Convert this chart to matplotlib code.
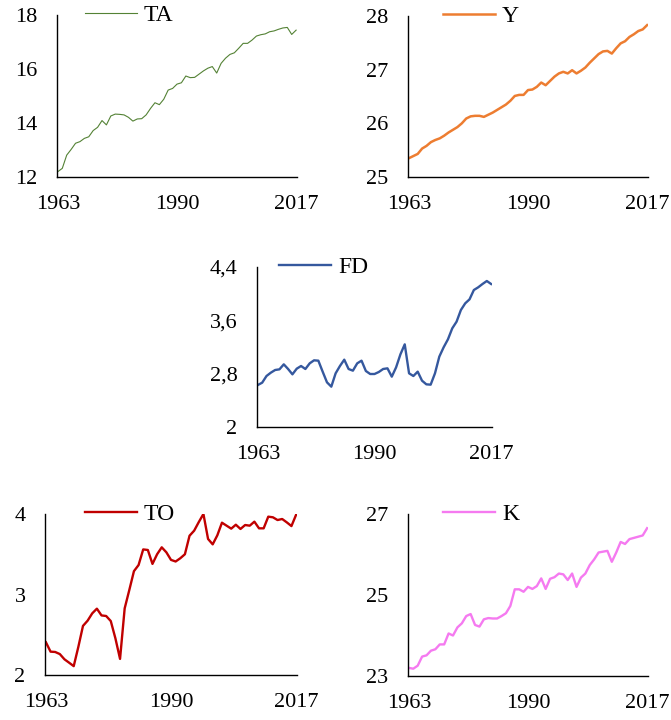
import matplotlib
matplotlib.use("Agg")
import matplotlib.pyplot as plt

plt.rcParams['font.family'] = ['Liberation Serif', 'DejaVu Serif']

years = list(range(1963, 2018))

ta = [12.20, 12.32, 12.81, 13.02, 13.25, 13.31, 13.43, 13.49, 13.72, 13.84,
      14.09, 13.93, 14.26, 14.33, 14.32, 14.30, 14.21, 14.07, 14.15, 14.16,
      14.30, 14.54, 14.75, 14.68, 14.88, 15.22, 15.28, 15.44, 15.49, 15.74,
      15.68, 15.69, 15.81, 15.93, 16.03, 16.09, 15.85, 16.21, 16.40, 16.54,
      16.60, 16.77, 16.95, 16.95, 17.07, 17.22, 17.27, 17.30, 17.38, 17.41,
      17.47, 17.52, 17.54, 17.28, 17.44]

y_gdp = [25.35, 25.39, 25.43, 25.53, 25.58, 25.65, 25.69, 25.72, 25.77, 25.83,
         25.88, 25.93, 26.00, 26.09, 26.13, 26.14, 26.14, 26.12, 26.16, 26.20,
         26.25, 26.30, 26.35, 26.42, 26.51, 26.53, 26.53, 26.62, 26.63, 26.68,
         26.76, 26.71, 26.79, 26.87, 26.93, 26.96, 26.93, 26.99, 26.93, 26.98,
         27.04, 27.13, 27.21, 27.29, 27.34, 27.35, 27.30, 27.40, 27.49, 27.53,
         27.61, 27.66, 27.72, 27.75, 27.83]

fd = [2.63, 2.665, 2.765, 2.815, 2.855, 2.865, 2.94, 2.87, 2.79, 2.875,
      2.915, 2.87, 2.955, 3.00, 2.995, 2.83, 2.67, 2.605, 2.805, 2.915,
      3.01, 2.87, 2.845, 2.955, 2.995, 2.84, 2.795, 2.795, 2.825, 2.87,
      2.88, 2.755, 2.895, 3.09, 3.24, 2.805, 2.765, 2.83, 2.695, 2.64,
      2.635, 2.805, 3.055, 3.195, 3.315, 3.48, 3.58, 3.755, 3.855, 3.915,
      4.055, 4.095, 4.145, 4.19, 4.145]

to = [2.406, 2.29, 2.286, 2.26, 2.195, 2.153, 2.11, 2.35, 2.61, 2.675,
      2.766, 2.824, 2.74, 2.733, 2.67, 2.455, 2.20, 2.828, 3.056, 3.29,
      3.366, 3.56, 3.553, 3.38, 3.50, 3.586, 3.524, 3.43, 3.41, 3.45,
      3.50, 3.73, 3.793, 3.90, 4.00, 3.69, 3.623, 3.735, 3.892, 3.855,
      3.818, 3.867, 3.814, 3.863, 3.855, 3.905, 3.822, 3.822, 3.967, 3.959,
      3.925, 3.938, 3.896, 3.85, 3.99]

k = [23.20, 23.18, 23.255, 23.48, 23.51, 23.625, 23.66, 23.78, 23.78, 24.05,
     24.00, 24.20, 24.30, 24.48, 24.53, 24.26, 24.22, 24.40, 24.43, 24.42,
     24.42, 24.48, 24.55, 24.73, 25.14, 25.14, 25.08, 25.20, 25.15, 25.22,
     25.41, 25.15, 25.40, 25.44, 25.53, 25.51, 25.37, 25.53, 25.20, 25.43,
     25.53, 25.74, 25.88, 26.05, 26.07, 26.09, 25.82, 26.05, 26.31, 26.26,
     26.38, 26.41, 26.44, 26.47, 26.65]

x_ticks = [1963, 1990, 2017]

W, H = 671, 720
fig = plt.figure(figsize=(W / 100, H / 100), dpi=100)


def panel(box, data, name, color, lw, ylim, yticks, ylabels, leg_dx):
    # box = (left, top, right, bottom) in pixels
    l, t, r, b = box
    ax = fig.add_axes([l / W, 1 - b / H, (r - l) / W, (b - t) / H])
    ax.plot(years, data, color=color, lw=lw, label=name)
    ax.set_xlim(1962.8, 2017.2)
    ax.set_ylim(*ylim)
    ax.set_xticks(x_ticks)
    ax.set_yticks(yticks)
    ax.set_yticklabels(ylabels)
    ax.tick_params(length=0, labelsize=16)
    ax.tick_params(axis='y', pad=14)
    ax.tick_params(axis='x', pad=13)
    for s in ['top', 'right']:
        ax.spines[s].set_visible(False)
    for s in ['left', 'bottom']:
        ax.spines[s].set_linewidth(1.0)
    ax.legend(loc='center left', bbox_to_anchor=(leg_dx / (r - l), 1.0),
              frameon=False, fontsize=17, handlelength=2.2, handletextpad=0.3,
              borderpad=0, borderaxespad=0)
    return ax


panel((57, 15, 297, 177), ta, 'TA', '#548235', 0.8, (12, 18),
      [12, 14, 16, 18], ['12', '14', '16', '18'], 28)
panel((408, 16, 648, 177), y_gdp, 'Y', '#ED7D31', 1.8, (25, 28),
      [25, 26, 27, 28], ['25', '26', '27', '28'], 35)
panel((257, 267, 492, 427), fd, 'FD', '#35589E', 1.7, (2, 4.4),
      [2, 2.8, 3.6, 4.4], ['2', '2,8', '3,6', '4,4'], 22)
panel((45, 514, 297, 675), to, 'TO', '#C00000', 1.7, (2, 4),
      [2, 3, 4], ['2', '3', '4'], 40)
panel((408, 514, 648, 676), k, 'K', '#F57AF0', 1.7, (23, 27),
      [23, 25, 27], ['23', '25', '27'], 35)

fig.savefig('out.png', dpi=100)
